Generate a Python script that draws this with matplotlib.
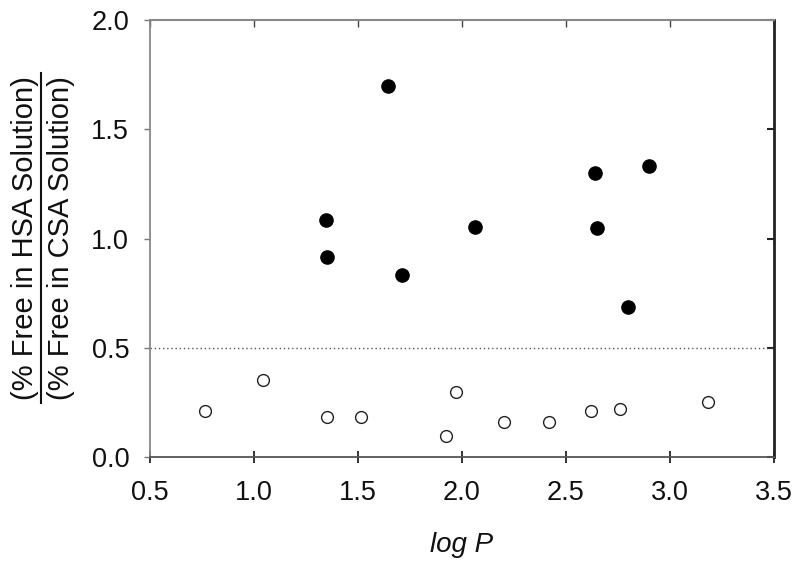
import matplotlib
matplotlib.use("Agg")
import matplotlib.pyplot as plt
from matplotlib.lines import Line2D

plt.rcParams['font.family'] = ['Liberation Sans', 'DejaVu Sans']

# Data
hsa_logp = [1.644, 1.345, 1.353, 1.713, 2.063, 2.640, 2.650, 2.900, 2.799]
hsa_ratio = [1.696, 1.086, 0.917, 0.833, 1.052, 1.299, 1.049, 1.334, 0.687]
csa_logp = [0.765, 1.043, 1.353, 1.514, 1.922, 1.972, 2.200, 2.419, 2.622, 2.759, 3.181]
csa_ratio = [0.212, 0.352, 0.182, 0.185, 0.097, 0.298, 0.162, 0.158, 0.211, 0.220, 0.253]
threshold = 0.5
xticks = [0.5, 1.0, 1.5, 2.0, 2.5, 3.0, 3.5]
yticks = [0.0, 0.5, 1.0, 1.5, 2.0]
ylabel_top = "(% Free in HSA Solution)"
ylabel_bottom = "(% Free in CSA Solution)"
xlabel = "log P"

FS = 19.5
FSY = 21
fig = plt.figure(figsize=(8.0, 5.64), dpi=100)
ax = fig.add_axes([0.1875, 0.1897, 0.78, 0.7748])

ax.axhline(threshold, color='#555555', linestyle=(0, (1, 2)), linewidth=1.0, zorder=1)
ax.plot(hsa_logp, hsa_ratio, 'o', color='black', markersize=9.5, linestyle='none', zorder=3)
ax.plot(csa_logp, csa_ratio, 'o', markerfacecolor='white', markeredgecolor='#222222',
        markeredgewidth=1.0, markersize=8.5, linestyle='none', zorder=3)

ax.set_xlim(0.5, 3.5)
ax.set_ylim(0.0, 2.0)
ax.set_xticks(xticks)
ax.set_yticks(yticks)
ax.set_xticklabels([f"{v:.1f}" for v in xticks])
ax.set_yticklabels([f"{v:.1f}" for v in yticks])

ax.tick_params(axis='x', direction='inout', length=9, width=1.3, pad=12,
               labelsize=FS, colors='#222222', labelcolor='#111111')
ax.tick_params(axis='y', direction='out', length=4, width=1.0, pad=11,
               labelsize=FS, colors='#777777', labelcolor='#111111')

for side, col, lw in [('left', '#888888', 1.3), ('top', '#888888', 1.5),
                      ('bottom', '#555555', 1.3), ('right', '#222222', 2.0)]:
    ax.spines[side].set_color(col)
    ax.spines[side].set_linewidth(lw)

secx = ax.secondary_xaxis('top')
secx.set_xticks(xticks)
secx.tick_params(direction='in', length=5, width=1.0, colors='#444444', labeltop=False)
secx.spines['top'].set_visible(False)
secy = ax.secondary_yaxis('right')
secy.set_yticks(yticks)
secy.tick_params(direction='in', length=5, width=1.5, colors='#222222', labelright=False)
secy.spines['right'].set_visible(False)

ax.set_xlabel(xlabel, fontsize=20, style='italic', labelpad=19, color='#111111')

# Two-line fraction y label
yc = (1 - 238 / 564)
t1 = fig.text(25 / 800, yc, ylabel_top, rotation=90, ha='center', va='center',
              fontsize=FSY, color='#111111')
t2 = fig.text(61 / 800, yc, ylabel_bottom, rotation=90, ha='center', va='center',
              fontsize=FSY, color='#111111')
fig.canvas.draw()
bb = t1.get_window_extent()
W, H = fig.get_size_inches() * fig.dpi
bar_x = 41 / 800
fig.add_artist(Line2D([bar_x, bar_x], [(bb.y0 - 3) / H, (bb.y1 + 3) / H],
                      transform=fig.transFigure, color='#111111', linewidth=1.5))

fig.savefig("out.png", dpi=100)
